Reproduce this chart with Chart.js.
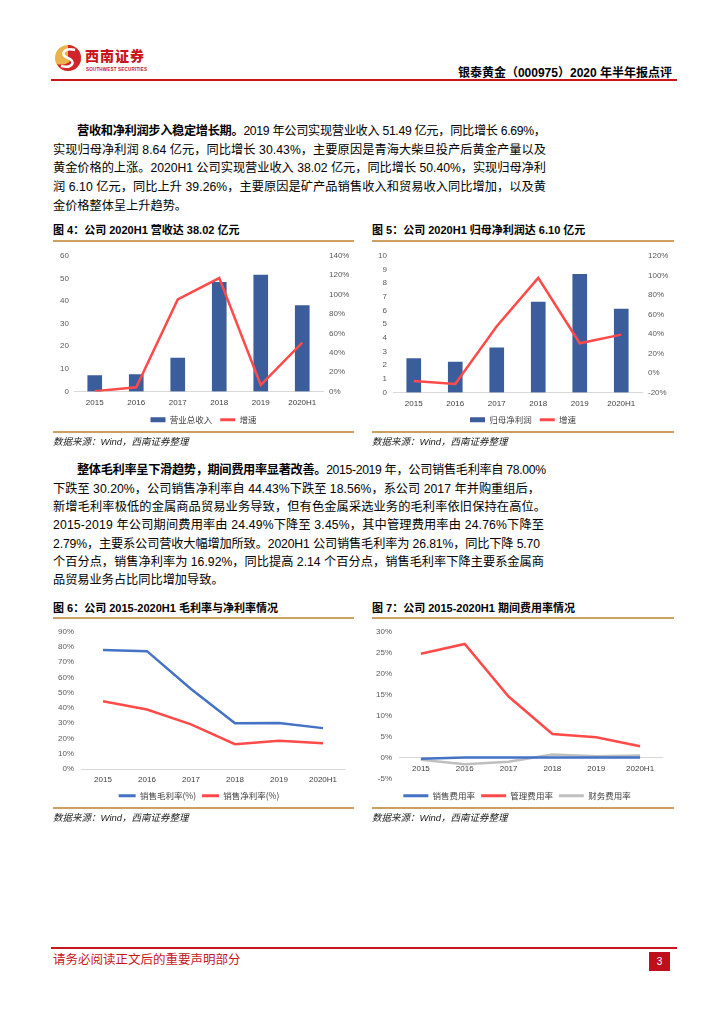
<!DOCTYPE html>
<html><head><meta charset="utf-8">
<script src="https://cdn.jsdelivr.net/npm/chart.js@4.4.0/dist/chart.umd.min.js"></script>
<style>
body{margin:0;width:724px;height:1024px;background:#fff;position:relative;overflow:hidden;font-family:"Liberation Sans","Noto Sans CJK SC",sans-serif;color:#000}
.abs{position:absolute}
.ln{position:absolute;left:53px;white-space:nowrap;display:inline-block;font-size:12.2px;line-height:18px;height:18px}
.ttl{position:absolute;font-size:11px;font-weight:700;line-height:14px;white-space:nowrap}
.gold{position:absolute;height:1.5px;background:#CDA061}
.src{position:absolute;font-size:9.5px;font-style:italic;line-height:12px;color:#222;white-space:nowrap}
canvas{position:absolute}
</style></head><body>

<svg class="abs" style="left:54px;top:44px" width="28" height="28" viewBox="0 0 28 28">
 <circle cx="14" cy="14" r="13" fill="#E9B44C"/>
 <path d="M14 1 A13 13 0 0 1 14 27 A13 13 0 0 1 3 20 C 10 22, 20 18, 14 14 Z" fill="#D0262B"/>
 <path d="M21 6 C 10 3, 5 11, 14 14 C 22 17, 19 25, 7 22" stroke="#fff" stroke-width="2.6" fill="none"/>
</svg>
<div class="abs" style="left:85px;top:47px;font-size:14px;line-height:18px;font-weight:900;color:#C8161D;letter-spacing:1px;white-space:nowrap">西南证券</div>
<div class="abs" style="left:86px;top:67px;font-size:4.6px;line-height:6px;font-weight:700;color:#C8161D;white-space:nowrap;letter-spacing:0.15px">SOUTHWEST SECURITIES</div>
<div class="abs" style="right:52px;top:65px;font-size:12px;line-height:16px;font-weight:700;white-space:nowrap">银泰黄金（000975）2020 年半年报点评</div>
<div class="abs" style="left:51px;top:79px;width:626px;height:1.5px;background:#C8161D"></div>

<span class="ln" data-r="546" style="top:122px;left:77px"><b>营收和净利润步入稳定增长期。</b>2019 年公司实现营业收入 51.49 亿元，同比增长 6.69%，</span>
<span class="ln" data-r="546" style="top:141px">实现归母净利润 8.64 亿元，同比增长 30.43%，主要原因是青海大柴旦投产后黄金产量以及</span>
<span class="ln" data-r="546" style="top:159px">黄金价格的上涨。2020H1 公司实现营业收入 38.02 亿元，同比增长 50.40%，实现归母净利</span>
<span class="ln" data-r="546" style="top:178px">润 6.10 亿元，同比上升 39.26%，主要原因是矿产品销售收入和贸易收入同比增加，以及黄</span>
<span class="ln" style="top:197px">金价格整体呈上升趋势。</span>

<div class="ttl" style="left:53px;top:223px">图 4：公司 2020H1 营收达 38.02 亿元</div>
<div class="ttl" style="left:372px;top:223px">图 5：公司 2020H1 归母净利润达 6.10 亿元</div>
<div class="gold" style="left:53px;top:240px;width:301px"></div>
<div class="gold" style="left:372px;top:240px;width:302px"></div>
<canvas id="c4" width="301" height="189" style="left:53px;top:245px"></canvas>
<canvas id="c5" width="302" height="189" style="left:372px;top:245px"></canvas>
<div class="gold" style="left:53px;top:431px;width:301px"></div>
<div class="gold" style="left:372px;top:431px;width:302px"></div>
<div class="src" style="left:53px;top:436px">数据来源：Wind，西南证券整理</div>
<div class="src" style="left:372px;top:436px">数据来源：Wind，西南证券整理</div>

<span class="ln" data-r="546" style="top:461px;left:77px"><b>整体毛利率呈下滑趋势，期间费用率显著改善。</b>2015-2019 年，公司销售毛利率自 78.00%</span>
<span class="ln" data-r="540" style="top:480px">下跌至 30.20%，公司销售净利率自 44.43%下跌至 18.56%，系公司 2017 年并购重组后，</span>
<span class="ln" data-r="546" style="top:498px">新增毛利率极低的金属商品贸易业务导致，但有色金属采选业务的毛利率依旧保持在高位。</span>
<span class="ln" data-r="544" style="top:516px">2015-2019 年公司期间费用率由 24.49%下降至 3.45%，其中管理费用率由 24.76%下降至</span>
<span class="ln" data-r="540" style="top:535px">2.79%，主要系公司营收大幅增加所致。2020H1 公司销售毛利率为 26.81%，同比下降 5.70</span>
<span class="ln" data-r="544" style="top:553px">个百分点，销售净利率为 16.92%，同比提高 2.14 个百分点，销售毛利率下降主要系金属商</span>
<span class="ln" style="top:571px">品贸易业务占比同比增加导致。</span>

<div class="ttl" style="left:53px;top:601px">图 6：公司 2015-2020H1 毛利率与净利率情况</div>
<div class="ttl" style="left:372px;top:601px">图 7：公司 2015-2020H1 期间费用率情况</div>
<div class="gold" style="left:53px;top:617px;width:301px"></div>
<div class="gold" style="left:372px;top:617px;width:302px"></div>
<canvas id="c6" width="301" height="190" style="left:53px;top:620px"></canvas>
<canvas id="c7" width="302" height="190" style="left:372px;top:620px"></canvas>
<div class="gold" style="left:53px;top:807px;width:301px"></div>
<div class="gold" style="left:372px;top:807px;width:302px"></div>
<div class="src" style="left:53px;top:812px">数据来源：Wind，西南证券整理</div>
<div class="src" style="left:372px;top:812px">数据来源：Wind，西南证券整理</div>

<div class="abs" style="left:51px;top:947px;width:626px;height:1.5px;background:#C8161D"></div>
<div class="abs" style="left:53px;top:952px;font-size:12.5px;line-height:16px;color:#C8161D;white-space:nowrap">请务必阅读正文后的重要声明部分</div>
<div class="abs" style="left:649px;top:952px;width:21px;height:19px;background:#C00F1C;color:#fff;font-size:10px;line-height:19px;text-align:center">3</div>

<script>
const years = ['2015', '2016', '2017', '2018', '2019', '2020H1'];
const revenue = [7.0, 7.5, 14.8, 48.3, 51.49, 38.02];
const revenueGrowth = [0.3, 4.4, 95, 117, 6.69, 50.40];
const netProfit = [2.49, 2.23, 3.26, 6.62, 8.64, 6.10];
const profitGrowth = [-8.3, -11.3, 47.8, 97.4, 30.43, 39.26];
const grossMargin = [78.00, 77.3, 52.5, 30.0, 30.20, 26.81];
const netMargin = [44.43, 39.0, 29.3, 16.3, 18.56, 16.92];
const salesExpRate = [-0.2, 0.1, 0.1, 0.1, 0.1, 0.1];
const adminExpRate = [24.76, 27.1, 14.6, 5.7, 4.95, 2.79];
const financeExpRate = [-0.4, -1.5, -0.9, 0.85, 0.4, 0.6];

// justify text lines
document.querySelectorAll('.ln[data-r]').forEach(el => {
  const left = parseFloat(el.style.left || 53);
  const target = parseFloat(el.dataset.r) - left;
  el.style.letterSpacing = '0px';
  const w = el.getBoundingClientRect().width;
  const n = [...el.textContent].length;
  el.style.letterSpacing = ((target - w) / (n - 1)) + 'px';
});

Chart.defaults.font.family = '"Liberation Sans","Noto Sans CJK SC",sans-serif';
Chart.defaults.font.size = 8;
Chart.defaults.color = '#595959';
Chart.defaults.animation = false;

const BLUE_BAR = '#3C5D9B', RED = '#FF4A4A', BLUE = '#4472C4', GRAY = '#BFBFBF';

function legend(pad, bw) {
  return {
    position: 'bottom',
    labels: {
      usePointStyle: true, pointStyleWidth: bw, boxHeight: 5, padding: pad,
      color: '#404040', font: {size: 8.5, family: '"Noto Sans CJK SC","Liberation Sans",sans-serif'},
      generateLabels(chart) {
        return chart.data.datasets.map((ds, i) => {
          const isBar = (ds.type || chart.config.type) === 'bar';
          return {
            text: ds.label, datasetIndex: i, hidden: false, fontColor: '#404040',
            fillStyle: isBar ? ds.backgroundColor : ds.borderColor,
            strokeStyle: isBar ? ds.backgroundColor : ds.borderColor,
            lineWidth: isBar ? 0 : 3, pointStyle: isBar ? 'rect' : 'line'
          };
        });
      }
    }
  };
}
const noGrid = {display: false, drawTicks: false};
const pct = v => v + '%';

new Chart(document.getElementById('c4'), {
  type: 'bar',
  data: {labels: years, datasets: [
    {type: 'bar', label: '营业总收入', data: revenue, backgroundColor: BLUE_BAR, barThickness: 14, yAxisID: 'y', order: 2},
    {type: 'line', label: '增速', data: revenueGrowth, borderColor: RED, backgroundColor: RED, borderWidth: 2.5, pointRadius: 0, yAxisID: 'y1', order: 1}
  ]},
  options: {
    responsive: false, layout: {padding: {top: 4, bottom: 0, left: 0, right: 0}},
    plugins: {legend: legend(8, 15), tooltip: {enabled: false}},
    scales: {
      x: {grid: noGrid, border: {color: '#D9D9D9'}, ticks: {padding: 6, color: '#404040'}, afterFit(s) { s.height = 16; }},
      y: {min: 0, max: 60, grid: noGrid, border: {display: false}, ticks: {stepSize: 10, padding: 5, autoSkip: false}, afterFit(s) { s.width = 21; }},
      y1: {position: 'right', min: 0, max: 140, grid: noGrid, border: {display: false}, ticks: {stepSize: 20, padding: 6, autoSkip: false, callback: pct}, afterFit(s) { s.width = 31; }}
    }
  }
});

new Chart(document.getElementById('c5'), {
  type: 'bar',
  data: {labels: years, datasets: [
    {type: 'bar', label: '归母净利润', data: netProfit, backgroundColor: BLUE_BAR, barThickness: 14, yAxisID: 'y', order: 2},
    {type: 'line', label: '增速', data: profitGrowth, borderColor: RED, backgroundColor: RED, borderWidth: 2.5, pointRadius: 0, yAxisID: 'y1', order: 1}
  ]},
  options: {
    responsive: false, layout: {padding: {top: 4, bottom: 0, left: 0, right: 0}},
    plugins: {legend: legend(8, 15), tooltip: {enabled: false}},
    scales: {
      x: {grid: noGrid, border: {color: '#D9D9D9'}, ticks: {padding: 6, color: '#404040'}, afterFit(s) { s.height = 15; }},
      y: {min: 0, max: 10, grid: noGrid, border: {display: false}, ticks: {stepSize: 1, padding: 6, autoSkip: false}, afterFit(s) { s.width = 21; }},
      y1: {position: 'right', min: -20, max: 120, grid: noGrid, border: {display: false}, ticks: {stepSize: 20, padding: 6, autoSkip: false, callback: pct}, afterFit(s) { s.width = 32; }}
    }
  }
});

new Chart(document.getElementById('c6'), {
  type: 'line',
  data: {labels: years, datasets: [
    {label: '销售毛利率(%)', data: grossMargin, borderColor: BLUE, backgroundColor: BLUE, borderWidth: 2.5, pointRadius: 0},
    {label: '销售净利率(%)', data: netMargin, borderColor: RED, backgroundColor: RED, borderWidth: 2.5, pointRadius: 0}
  ]},
  options: {
    responsive: false, layout: {padding: {top: 5, bottom: 0, left: 0, right: 9}},
    plugins: {legend: legend(6, 17), tooltip: {enabled: false}},
    scales: {
      x: {offset: true, grid: noGrid, border: {color: '#D9D9D9'}, ticks: {padding: 6, color: '#404040'}, afterFit(s) { s.height = 16.5; }},
      y: {min: 0, max: 90, grid: noGrid, border: {display: false}, ticks: {stepSize: 10, padding: 7, autoSkip: false, callback: pct}, afterFit(s) { s.width = 28; }}
    }
  }
});

new Chart(document.getElementById('c7'), {
  type: 'line',
  data: {labels: years, datasets: [
    {label: '销售费用率', data: salesExpRate, borderColor: BLUE, backgroundColor: BLUE, borderWidth: 2.5, pointRadius: 0},
    {label: '管理费用率', data: adminExpRate, borderColor: RED, backgroundColor: RED, borderWidth: 2.5, pointRadius: 0},
    {label: '财务费用率', data: financeExpRate, borderColor: GRAY, backgroundColor: GRAY, borderWidth: 2.5, pointRadius: 0}
  ]},
  options: {
    responsive: false, layout: {padding: {top: 5, bottom: 0, left: 0, right: 12}},
    plugins: {legend: legend(6, 25), tooltip: {enabled: false}},
    scales: {
      x: {position: {y: 0}, offset: true, grid: noGrid, border: {color: '#D9D9D9'}, ticks: {padding: 6, color: '#404040'}},
      xpad: {type: 'category', position: 'bottom', grid: noGrid, border: {display: false}, ticks: {display: false}, afterFit(s) { s.height = 6.5; }},
      y: {min: -5, max: 30, grid: noGrid, border: {display: false}, ticks: {stepSize: 5, padding: 7, autoSkip: false, callback: pct}, afterFit(s) { s.width = 27; }}
    }
  }
});
</script>
</body></html>
